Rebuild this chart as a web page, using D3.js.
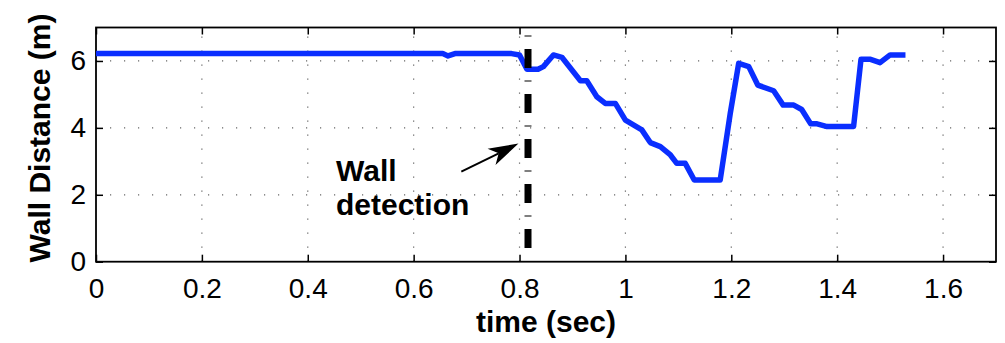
<!DOCTYPE html>
<html>
<head>
<meta charset="utf-8">
<script src="https://cdn.jsdelivr.net/npm/d3@7"></script>
<style>
  html, body { margin: 0; padding: 0; background: #fff; }
  svg { display: block; }
  text { font-family: "Liberation Sans", Arial, Helvetica, sans-serif; }
</style>
</head>
<body>
<svg id="chart" width="1005" height="343"></svg>
<script>
// Measured wall distance over time
const time = [0, 0.655, 0.665, 0.678, 0.785, 0.80, 0.814, 0.835, 0.845, 0.864, 0.88, 0.915, 0.927,
  0.946, 0.962, 0.981, 1.0, 1.031, 1.047, 1.066, 1.085, 1.097, 1.113, 1.13, 1.179, 1.198, 1.214,
  1.233, 1.25, 1.28, 1.298, 1.318, 1.333, 1.35, 1.362, 1.381, 1.431, 1.445, 1.463, 1.481, 1.50, 1.529];
const distance = [6.22, 6.22, 6.15, 6.22, 6.22, 6.18, 5.75, 5.75, 5.83, 6.18, 6.11, 5.41, 5.41,
  4.93, 4.73, 4.73, 4.23, 3.94, 3.56, 3.44, 3.19, 2.94, 2.94, 2.44, 2.44, 4.43, 5.93,
  5.83, 5.28, 5.11, 4.68, 4.68, 4.55, 4.12, 4.12, 4.04, 4.04, 6.05, 6.05, 5.95, 6.18, 6.18];

const xTicks = [0, 0.2, 0.4, 0.6, 0.8, 1, 1.2, 1.4, 1.6];
const yTicks = [0, 2, 4, 6];
const xDomain = [0, 1.7];
const yDomain = [0, 7];

// Wall detection marker and its annotation
const detectionTime = 0.816;
const detectionSpan = [0.41, 6.77];
const labelLines = ["Wall", "detection"];
const arrowFrom = [0.690, 2.69];
const arrowTo = [0.798, 3.53];

const margin = { left: 96, right: 9, top: 27.5, bottom: 81.3 };
const W = 1005, H = 343;
const svg = d3.select("#chart");

const x = d3.scaleLinear().domain(xDomain).range([margin.left, W - margin.right]);
const y = d3.scaleLinear().domain(yDomain).range([H - margin.bottom, margin.top]);

const tickLen = 7;
const fmt = d3.format("~g");

// dotted grid
const grid = svg.append("g").attr("stroke", "#666").attr("stroke-width", 1.2)
  .attr("stroke-dasharray", "1.2,12.8");
grid.selectAll(".gx").data(xTicks.filter(d => d > 0)).join("line")
  .attr("x1", d => x(d)).attr("x2", d => x(d))
  .attr("y1", y(yDomain[0])).attr("y2", y(yDomain[1]));
grid.selectAll(".gy").data(yTicks.filter(d => d > 0)).join("line")
  .attr("y1", d => y(d)).attr("y2", d => y(d))
  .attr("x1", x(xDomain[0])).attr("x2", x(xDomain[1]));

// axes with inward ticks on all four sides
const fontTick = 28;
const xAxisB = d3.axisBottom(x).tickValues(xTicks).tickSizeInner(-tickLen).tickSizeOuter(0)
  .tickPadding(16).tickFormat(fmt);
const xAxisT = d3.axisTop(x).tickValues(xTicks).tickSizeInner(-tickLen).tickSizeOuter(0)
  .tickFormat("");
const yAxisL = d3.axisLeft(y).tickValues(yTicks).tickSizeInner(-tickLen).tickSizeOuter(0)
  .tickPadding(10).tickFormat(fmt);
const yAxisR = d3.axisRight(y).tickValues(yTicks).tickSizeInner(-tickLen).tickSizeOuter(0)
  .tickFormat("");

function styleAxis(g) {
  g.select(".domain").remove();
  g.selectAll(".tick line").attr("stroke", "#000").attr("stroke-width", 1.5);
  g.selectAll(".tick text").attr("fill", "#000").attr("font-size", fontTick)
    .attr("font-family", "'Liberation Sans', Arial, Helvetica, sans-serif");
}
svg.append("g").attr("transform", `translate(0,${y(yDomain[0])})`).call(xAxisB).call(styleAxis);
svg.append("g").attr("transform", `translate(0,${y(yDomain[1])})`).call(xAxisT).call(styleAxis);
svg.append("g").attr("transform", `translate(${x(xDomain[0])},0)`).call(yAxisL).call(styleAxis);
svg.append("g").attr("transform", `translate(${x(xDomain[1])},0)`).call(yAxisR).call(styleAxis);

// box
svg.append("rect")
  .attr("x", x(xDomain[0])).attr("y", y(yDomain[1]))
  .attr("width", x(xDomain[1]) - x(xDomain[0])).attr("height", y(yDomain[0]) - y(yDomain[1]))
  .attr("fill", "none").attr("stroke", "#000").attr("stroke-width", 1.8);

// measured distance
const line = d3.line().x((d, i) => x(time[i])).y(d => y(d));
svg.append("path")
  .attr("d", line(distance))
  .attr("fill", "none")
  .attr("stroke", "#0a2eff")
  .attr("stroke-width", 5.5)
  .attr("stroke-linejoin", "round");

// detection marker (dash-dot)
svg.append("line")
  .attr("x1", x(detectionTime)).attr("x2", x(detectionTime))
  .attr("y1", y(detectionSpan[0])).attr("y2", y(detectionSpan[1]))
  .attr("stroke", "#000").attr("stroke-width", 7)
  .attr("stroke-dasharray", "19,12.5,1,12.5");

// annotation text
const lab = svg.append("text")
  .attr("font-size", 30).attr("font-weight", "bold").attr("fill", "#000");
lab.append("tspan").attr("x", 336).attr("y", 181).text(labelLines[0]);
lab.append("tspan").attr("x", 336).attr("y", 215).text(labelLines[1]);

// arrow
const ax0 = x(arrowFrom[0]), ay0 = y(arrowFrom[1]);
const ax1 = x(arrowTo[0]), ay1 = y(arrowTo[1]);
const ang = Math.atan2(ay1 - ay0, ax1 - ax0);
const headLen = 30, headHalf = 9, notch = 22;
const rot = (px, py) => [ax1 + px * Math.cos(ang) - py * Math.sin(ang), ay1 + px * Math.sin(ang) + py * Math.cos(ang)];
const nb = rot(-notch, 0);
svg.append("line")
  .attr("x1", ax0).attr("y1", ay0).attr("x2", nb[0]).attr("y2", nb[1])
  .attr("stroke", "#000").attr("stroke-width", 2);
svg.append("polygon")
  .attr("points", [rot(0, 0), rot(-headLen, -headHalf), nb, rot(-headLen, headHalf)].map(p => p.join(",")).join(" "))
  .attr("fill", "#000");

// axis titles
svg.append("text")
  .attr("x", (x(xDomain[0]) + x(xDomain[1])) / 2).attr("y", 332)
  .attr("text-anchor", "middle").attr("font-size", 30).attr("font-weight", "bold")
  .text("time (sec)");
svg.append("text")
  .attr("transform", `translate(50,${138}) rotate(-90)`)
  .attr("text-anchor", "middle").attr("font-size", 30).attr("font-weight", "bold")
  .text("Wall Distance (m)");
</script>
</body>
</html>
